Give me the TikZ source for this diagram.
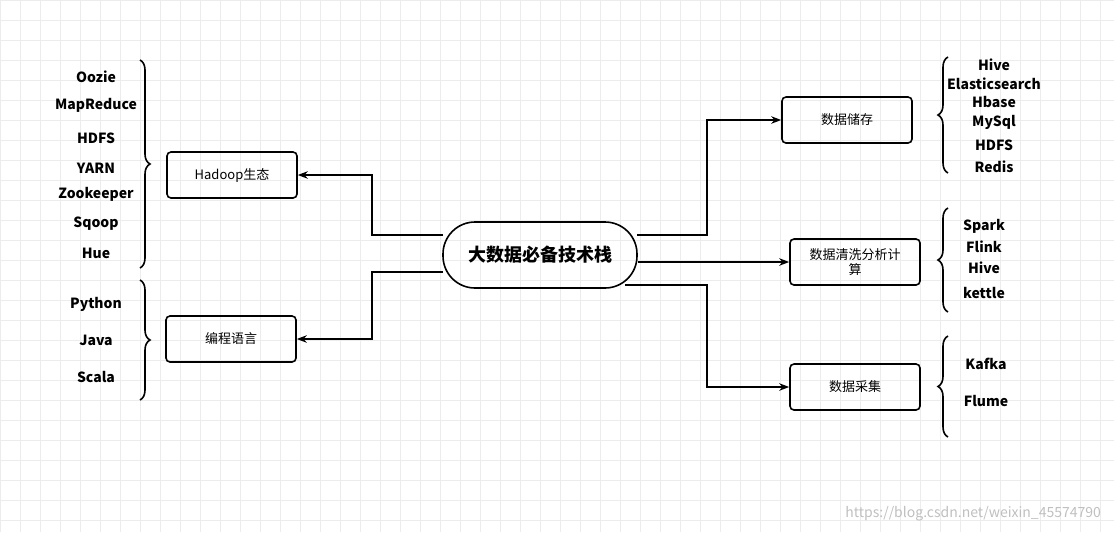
\documentclass[tikz,border=0pt]{standalone}
\usepackage{fontspec}
\setmainfont{Noto Sans CJK SC}
\usetikzlibrary{arrows.meta,decorations.pathreplacing}
\begin{document}
\begin{tikzpicture}[x=0.5pt,y=-0.5pt,
    box/.style={draw, thick, rounded corners=2pt, minimum width=65pt, minimum height=23pt, align=center, font=\fontsize{6.5}{7.5}\selectfont},
    hub/.style={draw, thick, rounded corners=16pt, minimum width=97pt, minimum height=33pt, font=\bfseries\fontsize{9}{10}\selectfont},
    item/.style={font=\bfseries\fontsize{7}{8}\selectfont},
    link/.style={thick, -{Stealth[length=5pt]}},
    curly/.style={thick, decorate, decoration={brace, amplitude=5pt}}
  ]

\useasboundingbox (0,0) rectangle (1114,532);
% grid
\foreach \gx in {0,20,...,1110} \draw[gray!15, line width=0.3pt] (\gx,0) -- (\gx,532);
\foreach \gy in {0,20,...,530} \draw[gray!15, line width=0.3pt] (0,\gy) -- (1114,\gy);

\node[hub] (stack) at (540,255) {大数据必备技术栈};
\node[box] (hadoop) at (232,175) {Hadoop生态};
\node[box] (lang) at (231,339) {编程语言};
\node[box] (store) at (847,120) {数据储存};
\node[box] (calc) at (855,262) {数据清洗分析计\\算};
\node[box] (collect) at (855,387) {数据采集};

\coordinate (l1) at (443,235);
\coordinate (l2) at (443,272);
\coordinate (r1) at (637,235);
\coordinate (r3) at (625,285);
\draw[link] (l1) -- (372,235) |- (hadoop.east);
\draw[link] (l2) -- (372,272) |- (lang.east);
\draw[link] (r1) -- (707,235) |- (store.west);
\draw[link] (stack.east |- calc) -- (calc.west);
\draw[link] (r3) -- (707,285) |- (collect.west);

% braces
\draw[curly] (140,60) -- (140,268);
\draw[curly] (140,280) -- (140,400);
\draw[curly] (948,173) -- (948,57);
\draw[curly] (948,312) -- (948,208);
\draw[curly] (948,437) -- (948,336);

\foreach \t/\y in {Oozie/77, MapReduce/105, HDFS/138, YARN/168, Zookeeper/194, Sqoop/224, Hue/253}
  \node[item] (h\y) at (96,\y) {\t};
\foreach \t/\y in {Python/304, Java/340, Scala/377}
  \node[item] (p\y) at (96,\y) {\t};
\foreach \t/\y in {Hive/65, Elasticsearch/84, Hbase/102, MySql/122, HDFS/145, Redis/167}
  \node[item] (s\y) at (994,\y) {\t};
\foreach \t/\y in {Spark/226, Flink/247, Hive/268, kettle/293}
  \node[item] (c\y) at (984,\y) {\t};
\foreach \t/\y in {Kafka/364, Flume/401}
  \node[item] (k\y) at (986,\y) {\t};

\node[gray!50, font=\fontsize{7}{8}\selectfont, anchor=east] (mark) at (1108,514) {https://blog.csdn.net/weixin\_45574790};
\end{tikzpicture}
\end{document}
